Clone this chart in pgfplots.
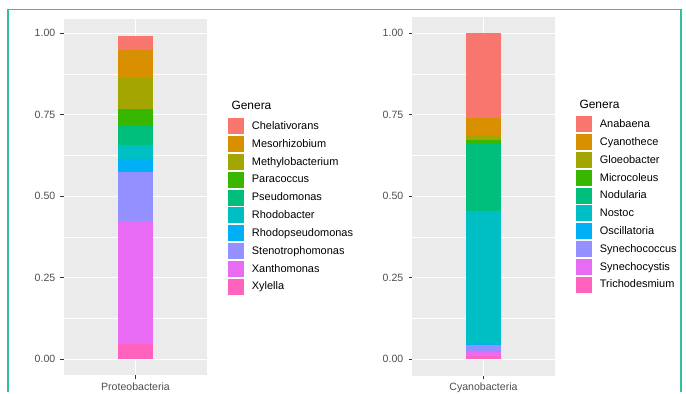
\documentclass[border=0pt]{standalone}
\usepackage{fontspec}
\setmainfont{Liberation Sans}
\usepackage{pgfplots}
\pgfplotsset{compat=1.18}
\definecolor{c1}{HTML}{F8766D}
\definecolor{c2}{HTML}{D89000}
\definecolor{c3}{HTML}{A3A500}
\definecolor{c4}{HTML}{39B600}
\definecolor{c5}{HTML}{00BF7D}
\definecolor{c6}{HTML}{00BFC4}
\definecolor{c7}{HTML}{00B0F6}
\definecolor{c8}{HTML}{9590FF}
\definecolor{c9}{HTML}{E76BF3}
\definecolor{c10}{HTML}{FF62BC}
\definecolor{panel}{HTML}{EBEBEB}
\definecolor{txt}{HTML}{4D4D4D}
\definecolor{frame}{RGB}{51,190,160}
\pgfplotsset{gg/.style={
  scale only axis, width=143bp, anchor=south west,
  xmin=0.4, xmax=1.6, xtick={1},
  ybar stacked, bar width=35.6bp,
  axis line style={draw=none},
  axis background/.style={fill=panel},
  tick align=outside, tick pos=left, major tick length=3.5bp,
  tick style={color=black!80, line width=0.8bp},
  ytick={0,0.25,0.5,0.75,1}, yticklabels={0.00,0.25,0.50,0.75,1.00},
  minor ytick={0.125,0.375,0.625,0.875}, minor tick length=0pt,
  xmajorgrids, ymajorgrids, yminorgrids,
  major grid style={white, line width=1.1bp},
  minor grid style={white, line width=0.55bp},
  ticklabel style={font=\fontsize{10.6}{12}\selectfont, text=txt},
  yticklabel style={inner xsep=0pt, xshift=-5bp},
  xticklabel style={inner ysep=0pt, yshift=-4bp},
  legend cell align=left, reverse legend,
  legend image code/.code={\fill[##1] (0bp,-8bp) rectangle (16bp,8bp); \path (23.7bp,0bp);},
  legend style={draw=none, fill=none, anchor=north west, inner sep=0pt, row sep=1.8bp,
    font=\fontsize{11}{13}\selectfont, nodes={inner sep=0pt, anchor=west}},
}}
\begin{document}
\begin{tikzpicture}
\path (0bp,0bp) rectangle (686bp,392bp);
\begin{axis}[gg, at={(64bp,16.5bp)}, height=356.1bp, ymin=-0.0497, ymax=1.0427,
  xticklabels={Proteobacteria}, legend style={at={(1.1469,0.7223)}}]
\addplot[fill=c10, draw=none] coordinates {(1,0.046)};
\addplot[fill=c9, draw=none] coordinates {(1,0.379)};
\addplot[fill=c8, draw=none] coordinates {(1,0.149)};
\addplot[fill=c7, draw=none] coordinates {(1,0.039)};
\addplot[fill=c6, draw=none] coordinates {(1,0.043)};
\addplot[fill=c5, draw=none] coordinates {(1,0.064)};
\addplot[fill=c4, draw=none] coordinates {(1,0.049)};
\addplot[fill=c3, draw=none] coordinates {(1,0.094)};
\addplot[fill=c2, draw=none] coordinates {(1,0.085)};
\addplot[fill=c1, draw=none] coordinates {(1,0.045)};
\legend{Xylella,Xanthomonas,Stenotrophomonas,Rhodopseudomonas,Rhodobacter,Pseudomonas,Paracoccus,Methylobacterium,Mesorhizobium,Chelativorans}
\end{axis}
\begin{axis}[gg, at={(412bp,16.4bp)}, height=358.6bp, ymin=-0.05, ymax=1.05,
  xticklabels={Cyanobacteria}, legend style={at={(1.1469,0.7234)}}]
\addplot[fill=c10, draw=none] coordinates {(1,0.010)};
\addplot[fill=c9, draw=none] coordinates {(1,0.013)};
\addplot[fill=c8, draw=none] coordinates {(1,0.020)};
\addplot[fill=c7, draw=none] coordinates {(1,0.008)};
\addplot[fill=c6, draw=none] coordinates {(1,0.405)};
\addplot[fill=c5, draw=none] coordinates {(1,0.207)};
\addplot[fill=c4, draw=none] coordinates {(1,0.011)};
\addplot[fill=c3, draw=none] coordinates {(1,0.015)};
\addplot[fill=c2, draw=none] coordinates {(1,0.051)};
\addplot[fill=c1, draw=none] coordinates {(1,0.260)};
\legend{Trichodesmium,Synechocystis,Synechococcus,Oscillatoria,Nostoc,Nodularia,Microcoleus,Gloeobacter,Cyanothece,Anabaena}
\end{axis}
\node[anchor=base west, font=\fontsize{12}{14}\selectfont] at (228bp,282bp) {Genera};
\node[anchor=base west, font=\fontsize{12}{14}\selectfont] at (576bp,283bp) {Genera};
\draw[frame, line width=1.5bp] (8bp,0bp) -- (8bp,382.7bp) -- (681bp,382.7bp) -- (681bp,0bp);
\end{tikzpicture}
\end{document}
